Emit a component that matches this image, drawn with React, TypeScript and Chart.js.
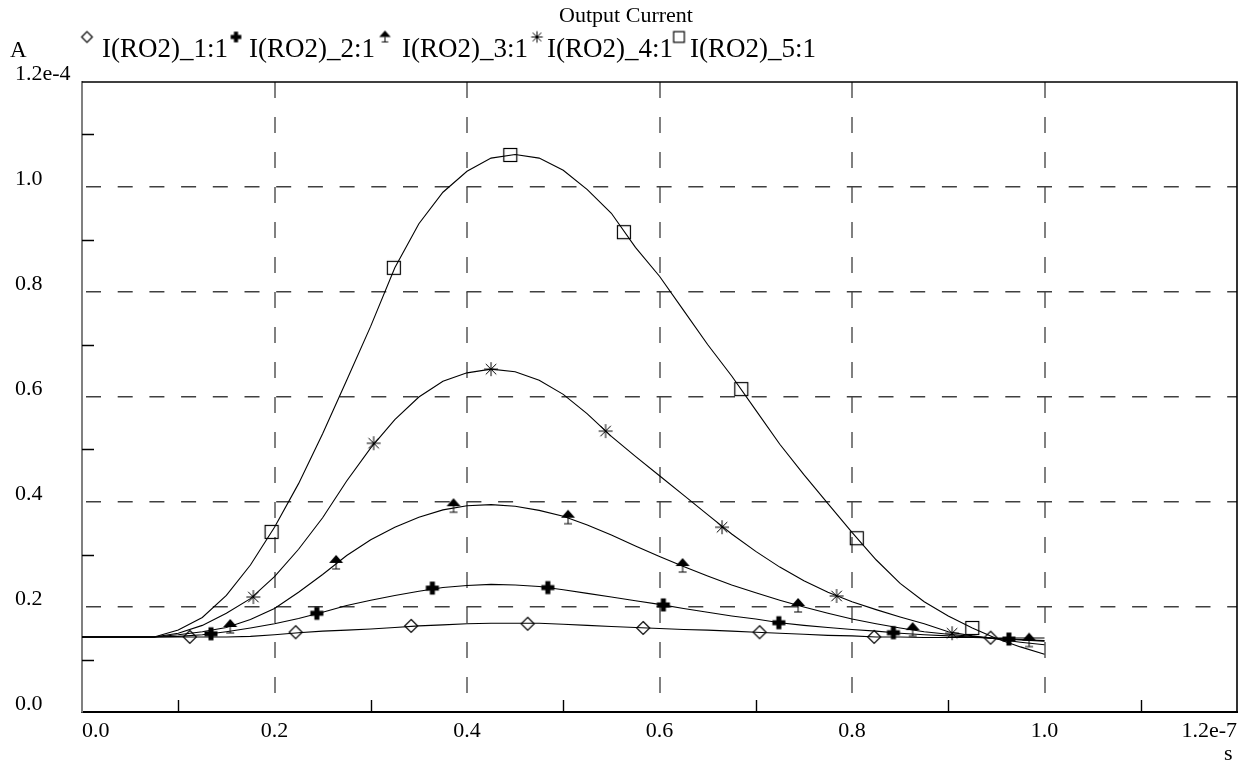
import React, { useEffect, useRef } from 'react';
import { Chart, registerables } from 'chart.js';

Chart.register(...registerables);

const TITLE = 'Output Current';
const Y_UNIT = 'A';
const X_UNIT = 's';
const SERIES_LABELS = ['I(RO2)_1:1', 'I(RO2)_2:1', 'I(RO2)_3:1', 'I(RO2)_4:1', 'I(RO2)_5:1'];

// time axis in units of 1e-7 s, current in units of 1e-4 A
const X_TICKS = [0, 0.2, 0.4, 0.6, 0.8, 1.0, 1.2];
const X_TICK_LABELS = ['0.0', '0.2', '0.4', '0.6', '0.8', '1.0', '1.2e-7'];
const X_MINOR = [0.1, 0.3, 0.5, 0.7, 0.9, 1.1];
const Y_TICKS = [0, 0.2, 0.4, 0.6, 0.8, 1.0, 1.2];
const Y_TICK_LABELS = ['0.0', '0.2', '0.4', '0.6', '0.8', '1.0', '1.2e-4'];
const Y_MINOR = [0.1, 0.3, 0.5, 0.7, 0.9, 1.1];

const T = [0, 0.05, 0.075, 0.1, 0.125, 0.15, 0.175, 0.2, 0.225, 0.25, 0.275, 0.3, 0.325, 0.35, 0.375, 0.4,
  0.425, 0.45, 0.475, 0.5, 0.525, 0.55, 0.575, 0.6, 0.625, 0.65, 0.675, 0.7, 0.725, 0.75, 0.775, 0.8,
  0.825, 0.85, 0.875, 0.9, 0.925, 0.95, 0.975, 1.0];

const S1 = [0.143, 0.143, 0.143, 0.143, 0.143, 0.143, 0.144, 0.147, 0.151, 0.154, 0.156, 0.158, 0.161, 0.164, 0.166, 0.168,
  0.169, 0.169, 0.169, 0.167, 0.165, 0.163, 0.161, 0.159, 0.157, 0.156, 0.154, 0.152, 0.150, 0.148, 0.146, 0.145,
  0.143, 0.143, 0.142, 0.142, 0.142, 0.141, 0.141, 0.141];
const S2 = [0.143, 0.143, 0.143, 0.144, 0.147, 0.153, 0.160, 0.168, 0.178, 0.190, 0.203, 0.213, 0.222, 0.230, 0.237, 0.241,
  0.243, 0.242, 0.239, 0.233, 0.226, 0.219, 0.212, 0.205, 0.197, 0.190, 0.183, 0.177, 0.170, 0.165, 0.161, 0.157,
  0.154, 0.150, 0.147, 0.145, 0.143, 0.140, 0.138, 0.136];
const S3 = [0.143, 0.143, 0.143, 0.147, 0.153, 0.161, 0.176, 0.197, 0.228, 0.262, 0.298, 0.328, 0.352, 0.371, 0.385, 0.393,
  0.395, 0.392, 0.384, 0.373, 0.356, 0.337, 0.316, 0.296, 0.277, 0.259, 0.242, 0.227, 0.213, 0.200, 0.188, 0.177,
  0.168, 0.160, 0.153, 0.148, 0.144, 0.140, 0.137, 0.135];
const S4 = [0.143, 0.143, 0.143, 0.150, 0.165, 0.188, 0.216, 0.258, 0.310, 0.370, 0.440, 0.503, 0.557, 0.600, 0.630, 0.646,
  0.653, 0.648, 0.632, 0.605, 0.568, 0.525, 0.487, 0.450, 0.413, 0.376, 0.339, 0.306, 0.276, 0.250, 0.228, 0.210,
  0.195, 0.181, 0.168, 0.153, 0.145, 0.139, 0.133, 0.128];
const S5 = [0.143, 0.143, 0.143, 0.156, 0.180, 0.222, 0.280, 0.352, 0.435, 0.530, 0.632, 0.735, 0.846, 0.930, 0.990, 1.030,
  1.055, 1.062, 1.055, 1.032, 0.995, 0.950, 0.885, 0.830, 0.765, 0.700, 0.640, 0.575, 0.510, 0.452, 0.397, 0.342,
  0.290, 0.245, 0.210, 0.183, 0.160, 0.140, 0.124, 0.110];

const M1_T = [0.112, 0.222, 0.342, 0.463, 0.583, 0.704, 0.823, 0.944];
const M1_Y = [0.143, 0.152, 0.164, 0.168, 0.160, 0.152, 0.143, 0.1415];
const M2_T = [0.134, 0.244, 0.364, 0.484, 0.604, 0.724, 0.843, 0.963];
const M2_Y = [0.149, 0.188, 0.236, 0.237, 0.204, 0.170, 0.151, 0.139];
const M3_T = [0.154, 0.264, 0.386, 0.505, 0.624, 0.744, 0.863, 0.984];
const M3_Y = [0.162, 0.284, 0.392, 0.370, 0.278, 0.202, 0.156, 0.136];
const M4_T = [0.178, 0.303, 0.425, 0.544, 0.665, 0.784, 0.904];
const M4_Y = [0.219, 0.512, 0.653, 0.535, 0.352, 0.221, 0.150];
const M5_T = [0.197, 0.324, 0.445, 0.563, 0.685, 0.805, 0.925];
const M5_Y = [0.343, 0.846, 1.061, 0.914, 0.615, 0.331, 0.160];

const X_UNIT_SCALE = 1e-7;
const Y_UNIT_SCALE = 1e-4;
const FONT = "'Liberation Serif', 'Times New Roman', serif";

type Kind = 'diamond' | 'plus' | 'triangle' | 'star' | 'square';
const KINDS: Kind[] = ['diamond', 'plus', 'triangle', 'star', 'square'];

function makeMarker(kind: Kind, k: number): HTMLCanvasElement {
  const size = Math.ceil(30 * k);
  const c = document.createElement('canvas');
  c.width = size;
  c.height = size;
  const ctx = c.getContext('2d')!;
  const m = size / 2;
  ctx.strokeStyle = '#000';
  ctx.fillStyle = '#000';
  ctx.lineWidth = 1.2;
  if (kind === 'diamond') {
    const h = 6.5 * k;
    ctx.beginPath();
    ctx.moveTo(m, m - h);
    ctx.lineTo(m + h, m);
    ctx.lineTo(m, m + h);
    ctx.lineTo(m - h, m);
    ctx.closePath();
    ctx.stroke();
  } else if (kind === 'plus') {
    const s = 13 * k;
    const t = 5 * k;
    ctx.fillRect(m - t / 2, m - s / 2, t, s);
    ctx.fillRect(m - s / 2, m - t / 2, s, t);
  } else if (kind === 'triangle') {
    ctx.beginPath();
    ctx.moveTo(m, m - 8 * k);
    ctx.lineTo(m + 7 * k, m);
    ctx.lineTo(m - 7 * k, m);
    ctx.closePath();
    ctx.fill();
    ctx.lineWidth = 1;
    ctx.beginPath();
    ctx.moveTo(m, m);
    ctx.lineTo(m, m + 6 * k);
    ctx.moveTo(m - 4 * k, m + 6 * k);
    ctx.lineTo(m + 4 * k, m + 6 * k);
    ctx.stroke();
  } else if (kind === 'star') {
    const r = 7 * k;
    const d = r * 0.75;
    ctx.lineWidth = 1;
    ctx.beginPath();
    ctx.moveTo(m, m - r); ctx.lineTo(m, m + r);
    ctx.moveTo(m - r, m); ctx.lineTo(m + r, m);
    ctx.moveTo(m - d, m - d); ctx.lineTo(m + d, m + d);
    ctx.moveTo(m - d, m + d); ctx.lineTo(m + d, m - d);
    ctx.stroke();
  } else {
    const s = 13 * k;
    ctx.strokeRect(m - s / 2, m - s / 2, s, s);
  }
  return c;
}

const LINE_SERIES = [S1, S2, S3, S4, S5];
const MARK_T = [M1_T, M2_T, M3_T, M4_T, M5_T];
const MARK_Y = [M1_Y, M2_Y, M3_Y, M4_Y, M5_Y];

const LEGEND_TEXT_X = [102, 249, 402, 547, 690];
const LEGEND_MARK_X = [87, 236, 385, 537, 679];

export default function App() {
  const ref = useRef<HTMLCanvasElement>(null);

  useEffect(() => {
    const canvas = ref.current!;
    const plotMarks = KINDS.map((k) => makeMarker(k, 1));
    const legendMarks = KINDS.map((k) => makeMarker(k, 0.82));

    const lineSets = LINE_SERIES.map((s, i) => ({
      label: SERIES_LABELS[i],
      data: T.map((t, j) => ({ x: t * X_UNIT_SCALE, y: s[j] * Y_UNIT_SCALE })),
      showLine: true,
      borderColor: '#000',
      borderWidth: 1.1,
      pointRadius: 0,
      tension: 0,
    }));
    const markSets = MARK_T.map((ts, i) => ({
      label: SERIES_LABELS[i] + ' markers',
      data: ts.map((t, j) => ({ x: t * X_UNIT_SCALE, y: MARK_Y[i][j] * Y_UNIT_SCALE })),
      showLine: false,
      pointStyle: plotMarks[i],
      pointRadius: 7,
      borderColor: '#000',
      backgroundColor: '#000',
    }));

    const decor = {
      id: 'decor',
      afterDatasetsDraw(chart: any) {
        const { ctx, chartArea: a, scales } = chart;
        const xs = scales.x;
        const ys = scales.y;
        ctx.save();
        ctx.strokeStyle = '#000';
        ctx.lineWidth = 1.6;
        ctx.beginPath();
        ctx.moveTo(a.left, a.top);
        ctx.lineTo(a.right, a.top);
        ctx.lineTo(a.right, a.bottom);
        ctx.stroke();
        ctx.lineWidth = 1.4;
        ctx.beginPath();
        X_MINOR.forEach((v) => {
          const px = Math.round(xs.getPixelForValue(v * X_UNIT_SCALE)) + 0.5;
          ctx.moveTo(px, a.bottom);
          ctx.lineTo(px, a.bottom - 12);
        });
        Y_MINOR.forEach((v) => {
          const py = Math.round(ys.getPixelForValue(v * Y_UNIT_SCALE)) + 0.5;
          ctx.moveTo(a.left, py);
          ctx.lineTo(a.left + 12, py);
        });
        ctx.stroke();

        ctx.fillStyle = '#000';
        ctx.textBaseline = 'alphabetic';
        ctx.font = `22px ${FONT}`;
        ctx.textAlign = 'center';
        ctx.fillText(TITLE, 626, 22);
        ctx.textAlign = 'left';
        ctx.font = `23px ${FONT}`;
        ctx.fillText(Y_UNIT, 10, 57);
        ctx.font = `27px ${FONT}`;
        SERIES_LABELS.forEach((lab, i) => {
          ctx.fillText(lab, LEGEND_TEXT_X[i], 57);
          const mk = legendMarks[i];
          ctx.drawImage(mk, LEGEND_MARK_X[i] - mk.width / 2, 37 - mk.height / 2);
        });
        ctx.font = `22px ${FONT}`;
        ctx.fillText(X_UNIT, 1224, 760);
        ctx.restore();
      },
    };

    const chart = new Chart(canvas, {
      type: 'scatter',
      data: { datasets: [...lineSets, ...markSets] as any },
      options: {
        animation: false,
        responsive: false,
        events: [],
        layout: { padding: { top: 82, right: 9, left: 15, bottom: 0 } },
        plugins: { legend: { display: false }, title: { display: false }, tooltip: { enabled: false } },
        scales: {
          x: {
            type: 'linear',
            min: 0,
            max: 1.2 * X_UNIT_SCALE,
            afterFit: (s: any) => { s.height = 54; },
            afterBuildTicks: (s: any) => { s.ticks = X_TICKS.map((v) => ({ value: v * X_UNIT_SCALE })); },
            ticks: {
              autoSkip: false,
              maxRotation: 0,
              align: 'inner',
              padding: 6,
              color: '#000',
              font: { family: FONT, size: 22 },
              callback: (_v: any, i: number) => X_TICK_LABELS[i],
            },
            grid: {
              drawTicks: false,
              lineWidth: 2,
              color: (c: any) => (c.index === 0 || c.index === X_TICKS.length - 1 ? 'rgba(0,0,0,0)' : '#808080'),
            },
            border: { display: true, color: '#000', width: 2, dash: [16, 19] },
          },
          y: {
            type: 'linear',
            min: 0,
            max: 1.2 * Y_UNIT_SCALE,
            afterFit: (s: any) => { s.width = 67; },
            afterBuildTicks: (s: any) => { s.ticks = Y_TICKS.map((v) => ({ value: v * Y_UNIT_SCALE })); },
            ticks: {
              crossAlign: 'far',
              labelOffset: -8,
              color: '#000',
              font: { family: FONT, size: 22 },
              callback: (_v: any, i: number) => Y_TICK_LABELS[i],
            },
            grid: {
              drawTicks: false,
              lineWidth: 1.6,
              color: (c: any) => (c.index === 0 || c.index === Y_TICKS.length - 1 ? 'rgba(0,0,0,0)' : '#404040'),
            },
            border: { display: true, color: '#808080', width: 2, dash: [15, 16.7], dashOffset: -3 },
          },
        },
      } as any,
      plugins: [decor],
    });
    return () => chart.destroy();
  }, []);

  return (
    <div style={{ position: 'fixed', left: 0, top: 0, width: 1246, height: 766, background: '#fff' }}>
      <canvas ref={ref} width={1246} height={766} style={{ display: 'block', width: 1246, height: 766 }} />
    </div>
  );
}
